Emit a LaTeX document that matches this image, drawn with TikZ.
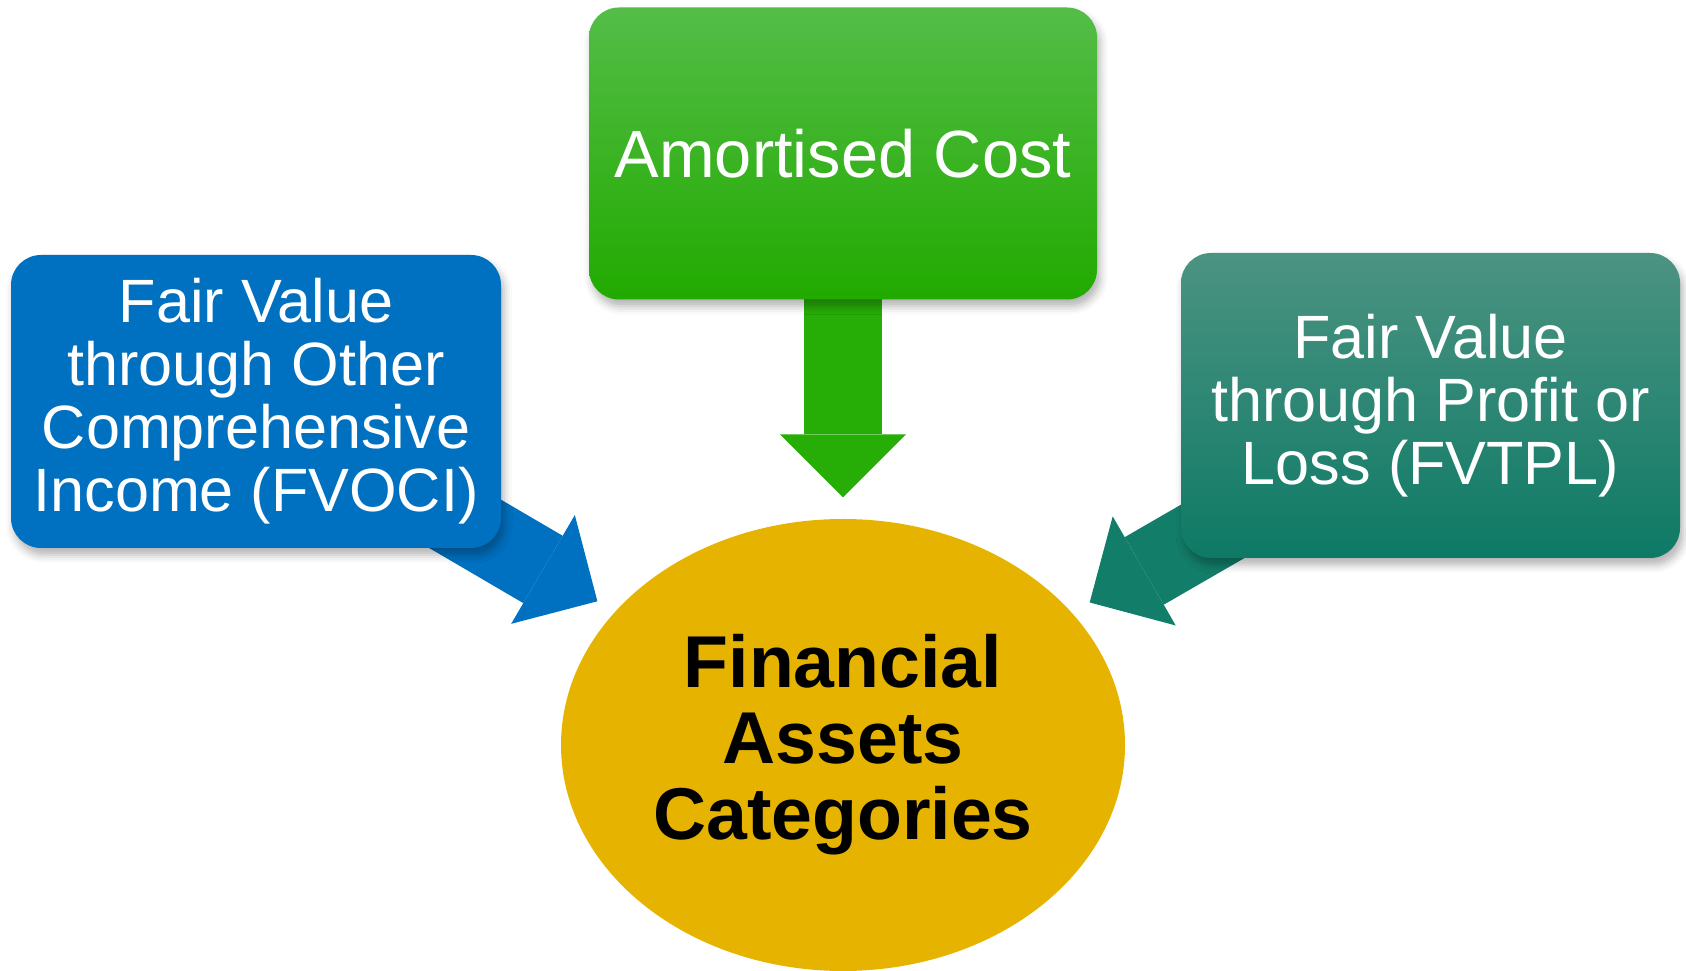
\documentclass[tikz,border=0pt]{standalone}
\usepackage{fontspec}
\setmainfont{Liberation Sans}
\usetikzlibrary{shapes.geometric,arrows.meta,shadows.blur,backgrounds}

\definecolor{fvblue}{HTML}{0070C0}
\definecolor{acgreentop}{HTML}{54BD48}
\definecolor{acgreenmid}{HTML}{2BB30B}
\definecolor{acgreen}{HTML}{22AA00}
\definecolor{acarrow}{HTML}{27AE06}
\definecolor{pltealtop}{HTML}{4C9382}
\definecolor{pltealmid}{HTML}{15816B}
\definecolor{plteal}{HTML}{0D7A65}
\definecolor{plarrow}{HTML}{127E69}
\definecolor{assetgold}{HTML}{E6B400}

\begin{document}
\begin{tikzpicture}[
  catbox/.style={rounded corners=3mm, inner sep=0pt, align=center, text=white,
    font=\fontsize{17.4pt}{17.9pt}\selectfont,
    blur shadow={shadow xshift=0.3mm, shadow yshift=-0.7mm,
      shadow blur radius=0.8mm, shadow opacity=30}},
  bigarrow/.style={line width=7.8mm,
    -{Triangle[length=6.3mm, width=12.6mm, line width=0pt]}}
]
\useasboundingbox (0,0) rectangle (16.86,9.70);

% Centre
\node[ellipse, fill=assetgold, inner sep=0pt, minimum width=5.64cm,
  minimum height=4.52cm, align=center,
  font=\fontsize{20.9pt}{21.6pt}\selectfont\bfseries]
  (assets) at (8.43,2.25) {Financial\\Assets\\Categories};

% Categories
\node[catbox, fill=fvblue, minimum width=4.90cm, minimum height=2.93cm]
  (fvoci) at (2.56,5.685) {Fair Value\\through Other\\Comprehensive\\Income (FVOCI)};
\node[catbox, top color=acgreentop, middle color=acgreenmid, bottom color=acgreen,
  minimum width=5.08cm, minimum height=2.92cm,
  font=\fontsize{19pt}{19.5pt}\selectfont]
  (amort) at (8.43,8.165) {Amortised Cost};
\node[catbox, top color=pltealtop, middle color=pltealmid, bottom color=plteal,
  minimum width=4.99cm, minimum height=3.05cm]
  (fvtpl) at (14.305,5.645) {Fair Value\\through Profit or\\Loss (FVTPL)};

% Arrows into the centre
\begin{scope}[on background layer]
  \draw[bigarrow, fvblue, shorten >=2mm] (fvoci.center) -- (assets);
  \draw[bigarrow, acarrow, shorten >=2.1mm] (amort.center) -- (assets);
  \draw[bigarrow, plarrow, shorten >=2mm] (fvtpl.center) -- (assets);
\end{scope}
\end{tikzpicture}
\end{document}
